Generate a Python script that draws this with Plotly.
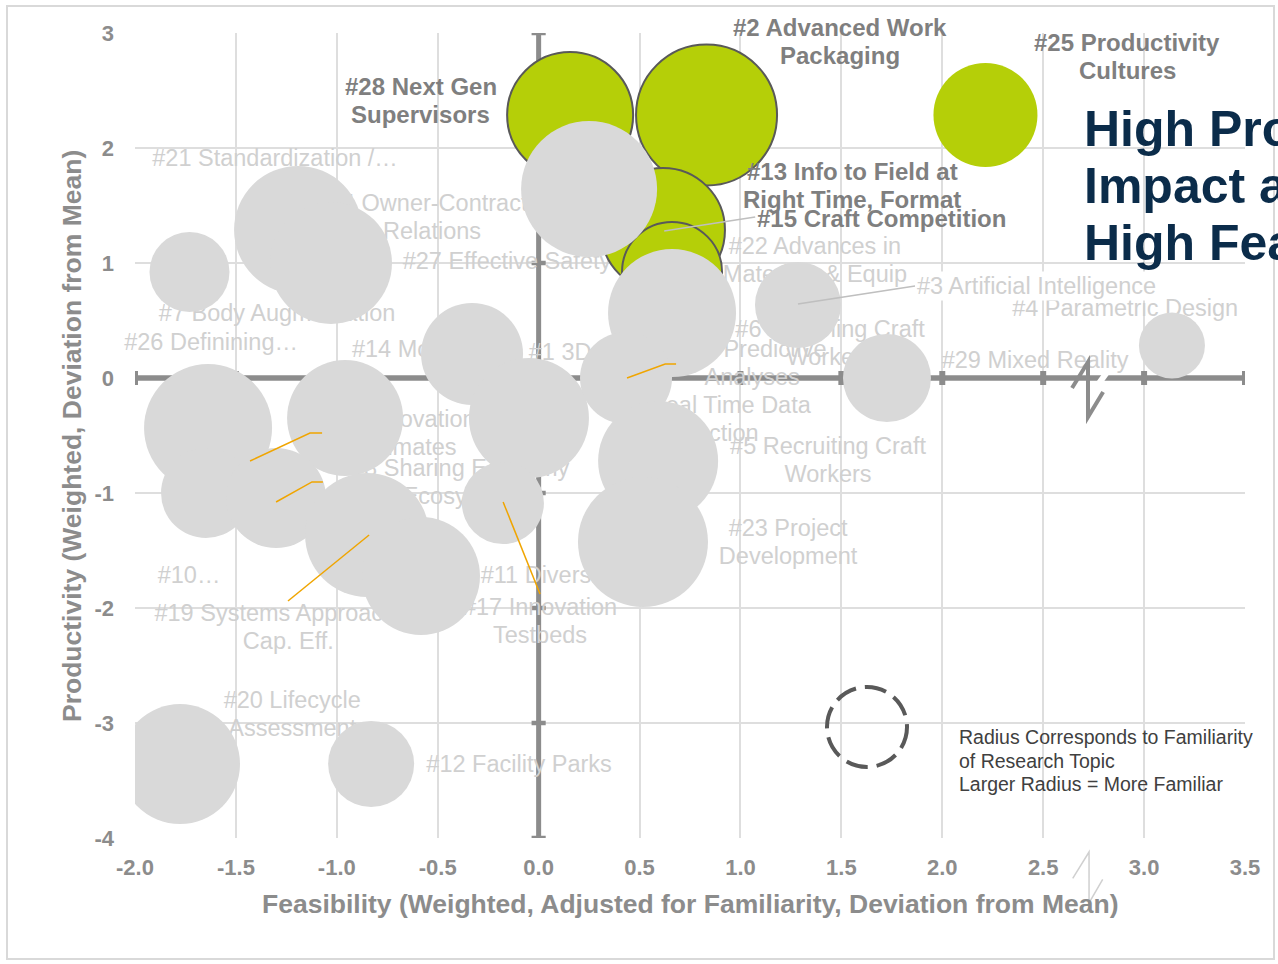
import plotly.graph_objects as go

# ---------------- data ----------------
x_tick_values = [-2.0, -1.5, -1.0, -0.5, 0.0, 0.5, 1.0, 1.5, 2.0, 2.5, 3.0, 3.5]
x_tick_labels = ["-2.0", "-1.5", "-1.0", "-0.5", "0.0", "0.5", "1.0", "1.5", "2.0", "2.5", "3.0", "3.5"]
y_tick_values = [-4, -3, -2, -1, 0, 1, 2, 3]
y_tick_labels = ["-4", "-3", "-2", "-1", "0", "1", "2", "3"]
Y_MIN, Y_MAX = -4, 3

# highlighted topics (high productivity & high feasibility)
top_topics = ["#28 Next Gen Supervisors", "#2 Advanced Work Packaging",
              "#13 Info to Field at Right Time, Format", "#15 Craft Competition",
              "#25 Productivity Cultures"]
top_feasibility = [0.156, 0.832, 0.616, 0.661, 2.214]
top_productivity = [2.287, 2.287, 1.287, 0.922, 2.287]
top_familiarity = [12.6, 14.1, 12.4, 10.0, 10.4]

# remaining topics
other_feasibility = [-1.730, -1.192, -1.029, 0.250, 0.661, 1.285, 1.726, 3.138,
                     -0.330, -0.048, -0.177, 0.433, 0.592, 0.517,
                     -1.638, -0.959, -1.648, -1.301, -0.850, -0.583, -1.777, -0.830]
other_productivity = [0.922, 1.287, 1.000, 1.643, 0.565, 0.635, 0.000, 0.283,
                      0.209, -0.348, -1.087, 0.000, -0.722, -1.426,
                      -0.435, -0.348, -1.000, -1.043, -1.365, -1.722, -3.357, -3.357]
other_familiarity = [8.0, 12.8, 12.2, 13.6, 12.8, 8.6, 8.8, 6.6,
                     10.2, 12.0, 8.2, 9.2, 12.0, 13.0,
                     12.8, 11.6, 9.0, 10.0, 12.4, 11.8, 12.0, 8.6]

other_labels = ["#21 Standardization /…", "#24 Owner-Contractor<br>Relations",
                "#27 Effective Safety", "#7 Body Augmentation", "#26 Definining…",
                "#14 Modularity", "#1 3D Printing", "#22 Advances in<br>Materials & Equip",
                "#4 Parametric Design", "#6 Retaining Craft<br>Workers",
                "#29 Mixed Reality", "#18 Predictive<br>Analyses",
                "#16 Real Time Data<br>Collection", "#5 Recruiting Craft<br>Workers",
                "#23 Project<br>Development", "#9 Innovation<br>Estimates",
                "#8 Sharing Economy<br>Ecosystem", "#10…",
                "#19 Systems Approach to<br>Cap. Eff.", "#11 Diversity",
                "#17 Innovation<br>Testbeds", "#20 Lifecycle<br>Assessment",
                "#12 Facility Parks"]
other_label_x = [-1.306, -0.528, -0.157, -1.296, -1.623, -0.543, 0.320, 1.369,
                 2.906, 1.444, 2.460, 1.058, 0.834, 1.434, 1.236, -0.662,
                 -0.389, -1.732, -1.240, 0.045, 0.007, -1.221, -0.097]
other_label_y = [1.896, 1.383, 1.000, 0.548, 0.296, 0.235, 0.209, 1.009,
                 0.591, 0.287, 0.139, 0.113, -0.374, -0.730, -1.443, -0.496,
                 -0.922, -1.730, -2.183, -1.730, -2.130, -2.939, -3.374]

top_labels = ["#2 Advanced Work<br>Packaging", "#25 Productivity<br>Cultures",
              "#28 Next Gen<br>Supervisors", "#13 Info to Field at<br>Right Time, Format",
              "#15 Craft Competition"]
top_label_x = [1.494, 2.916, -0.583, 1.553, 1.697]
top_label_y = [2.922, 2.800, 2.409, 1.678, 1.391]

quadrant_title = ["High Productivity", "Impact and", "High Feasibility"]
legend_note = ["Radius Corresponds to Familiarity", "of Research Topic",
               "Larger Radius = More Familiar"]

# ---------------- styles ----------------
FONT = "Arial, Liberation Sans, sans-serif"
GREEN = "#b5cf08"
BUBBLE_GRAY = "#d9d9d9"
LABEL_GRAY = "#d0d0d0"
AXIS_GRAY = "#8c8c8c"
GRID = "#dedede"
ORANGE = "#f0a500"

PX_PER_Y = 115.0   # pixels per y data unit
LINE_PX = 28.0     # line spacing of multi-line labels


def split_lines(labels, xs, ys):
    tt, xx, yy = [], [], []
    for t, x, y in zip(labels, xs, ys):
        parts = t.split("<br>")
        n = len(parts)
        for i, p in enumerate(parts):
            tt.append(p)
            xx.append(x)
            yy.append(y + ((n - 1) / 2 - i) * LINE_PX / PX_PER_Y)
    return tt, xx, yy


fig = go.Figure()

# faint labels (behind bubbles)
gt, gx, gy = split_lines(other_labels, other_label_x, other_label_y)
fig.add_trace(go.Scatter(
    x=gx, y=gy, text=gt, mode="text",
    textposition="middle center", cliponaxis=False, hoverinfo="skip",
    textfont=dict(family=FONT, size=23.5, color=LABEL_GRAY)))

# highlighted bubbles
fig.add_trace(go.Scatter(
    x=top_feasibility, y=top_productivity, mode="markers", hoverinfo="skip",
    text=top_topics,
    marker=dict(size=top_familiarity, sizemode="diameter", sizeref=0.1,
                color=GREEN, opacity=1,
                line=dict(color="#595959", width=[2, 2, 2, 2, 0]))))

# other bubbles
fig.add_trace(go.Scatter(
    x=other_feasibility, y=other_productivity, mode="markers", hoverinfo="skip",
    marker=dict(size=other_familiarity, sizemode="diameter", sizeref=0.1,
                color=BUBBLE_GRAY, opacity=1, line=dict(width=0))))

# leader lines
leaders_orange = [
    ([-1.430, -1.133, -1.073], [-0.722, -0.478, -0.478]),
    ([-1.301, -1.123, -1.069], [-1.078, -0.904, -0.904]),
    ([-1.242, -0.840], [-1.939, -1.365]),
    ([-0.176, 0.007], [-1.078, -1.878]),
    ([0.438, 0.627, 0.681], [0.000, 0.122, 0.122]),
]
for lx, ly in leaders_orange:
    fig.add_trace(go.Scatter(x=lx, y=ly, mode="lines", hoverinfo="skip",
                             line=dict(color=ORANGE, width=1.5)))
leaders_gray = [
    ([0.622, 1.073], [1.278, 1.400]),
    ([1.285, 1.865], [0.643, 0.800]),
]
for lx, ly in leaders_gray:
    fig.add_trace(go.Scatter(x=lx, y=ly, mode="lines", hoverinfo="skip",
                             line=dict(color="#bfbfbf", width=1.5)))

# ---------------- layout ----------------
L, R, T, B = 135, 1245, 33, 838
PW, PH = R - L, B - T


def px(xp):
    return (xp - L) / PW


def py(yp):
    return (B - yp) / PH


shapes = []
# outer border
shapes.append(dict(type="rect", xref="paper", yref="paper",
                   x0=px(7), x1=px(1274), y0=py(959), y1=py(6),
                   line=dict(color="#d9d9d9", width=2), layer="below"))
# white legend box
shapes.append(dict(type="rect", xref="paper", yref="paper",
                   x0=px(954), x1=px(1252), y0=py(799), y1=py(720),
                   fillcolor="white", line=dict(width=0), layer="between"))
# axes through zero
shapes.append(dict(type="line", xref="x", yref="y", x0=-2.0, x1=3.5, y0=0, y1=0,
                   line=dict(color=AXIS_GRAY, width=5.5), layer="between"))
shapes.append(dict(type="line", xref="x", yref="y", x0=0, x1=0, y0=-4, y1=3,
                   line=dict(color=AXIS_GRAY, width=5), layer="between"))
for v in x_tick_values:
    shapes.append(dict(type="line", xref="x", yref="y", x0=v, x1=v, y0=-0.061, y1=0.061,
                       line=dict(color=AXIS_GRAY, width=6), layer="between"))
for v in y_tick_values:
    shapes.append(dict(type="line", xref="x", yref="y", x0=-0.035, x1=0.035, y0=v, y1=v,
                       line=dict(color=AXIS_GRAY, width=4.5), layer="between"))
# axis break on the zero line
shapes.append(dict(type="line", xref="x", yref="y", x0=2.767, y0=-0.070, x1=2.831, y1=0.087,
                   line=dict(color="white", width=6), layer="between"))
shapes.append(dict(type="path", xref="x", yref="y",
                   path="M 2.643,-0.087 L 2.722,0.139 L 2.722,-0.339 L 2.797,-0.122",
                   line=dict(color=AXIS_GRAY, width=4), layer="above"))
# axis break under the x axis labels
shapes.append(dict(type="path", xref="paper", yref="paper",
                   path="M %.4f,%.4f L %.4f,%.4f L %.4f,%.4f L %.4f,%.4f" % (
                       px(1072.7), py(878.3), px(1089), py(852), px(1089), py(903),
                       px(1102.7), py(879.3)),
                   line=dict(color="#d0d0d0", width=1.5), layer="above"))
# dashed legend circle
cx, cy, rr = 867, 727, 40
shapes.append(dict(type="circle", xref="paper", yref="paper",
                   x0=px(cx - rr), x1=px(cx + rr), y0=py(cy + rr), y1=py(cy - rr),
                   line=dict(color="#595959", width=4, dash="22px,9px"), layer="above"))

annotations = [
    dict(xref="paper", yref="paper", x=px(690), y=py(904), xanchor="center", yanchor="middle",
         text="<b>Feasibility (Weighted, Adjusted for Familiarity, Deviation from Mean)</b>",
         showarrow=False, font=dict(family=FONT, size=26.5, color=AXIS_GRAY)),
    dict(xref="paper", yref="paper", x=px(72), y=py(436), xanchor="center", yanchor="middle",
         text="<b>Productivity (Weighted, Deviation from Mean)</b>", textangle=-90,
         showarrow=False, font=dict(family=FONT, size=26.5, color=AXIS_GRAY)),
    dict(xref="x", yref="y", x=1.865, y=0.800, xanchor="left", yanchor="middle",
         text="#3 Artificial Intelligence", showarrow=False, bgcolor="white", borderpad=1,
         font=dict(family=FONT, size=23.5, color=LABEL_GRAY)),
]
# bold labels of the highlighted topics (y given in paper units so lines above the
# top of the axis range stay visible)
bt, bx, by = split_lines(top_labels, top_label_x, top_label_y)
for t, x, y in zip(bt, bx, by):
    annotations.append(dict(xref="x", yref="paper", x=x, y=(y - Y_MIN) / (Y_MAX - Y_MIN),
                            xanchor="center", yanchor="middle",
                            text="<b>" + t + "</b>", showarrow=False,
                            font=dict(family=FONT, size=24, color="#7f7f7f")))
for i, line in enumerate(quadrant_title):
    annotations.append(dict(xref="paper", yref="paper", x=px(1082), y=py(128.5 + 57.5 * i),
                            xanchor="left", yanchor="middle", text="<b>" + line + "</b>",
                            showarrow=False, font=dict(family=FONT, size=50, color="#0b2c4a")))
for i, line in enumerate(legend_note):
    annotations.append(dict(xref="paper", yref="paper", x=px(957), y=py(737 + 23.5 * i),
                            xanchor="left", yanchor="middle", text=line,
                            showarrow=False, font=dict(family=FONT, size=19.5, color="#404040")))

fig.update_layout(
    width=1278, height=964, autosize=False,
    margin=dict(l=L, r=1278 - R, t=T, b=964 - B, pad=0),
    paper_bgcolor="white", plot_bgcolor="white",
    showlegend=False,
    shapes=shapes, annotations=annotations,
    xaxis=dict(range=[-2.0, 3.5], tickvals=x_tick_values, ticktext=x_tick_labels,
               showgrid=True, gridcolor=GRID, gridwidth=2, zeroline=False, showline=False,
               ticks="", ticklabelstandoff=14,
               tickfont=dict(family=FONT, size=22, color=AXIS_GRAY, weight="bold")),
    yaxis=dict(range=[Y_MIN, Y_MAX], tickvals=y_tick_values, ticktext=y_tick_labels,
               showgrid=True, gridcolor=GRID, gridwidth=2, zeroline=False, showline=False,
               ticks="", ticklabelstandoff=20,
               tickfont=dict(family=FONT, size=22, color=AXIS_GRAY, weight="bold")),
)

fig.write_html("out.html", config={"displayModeBar": False},
               post_script="document.body.style.margin='0';document.body.style.overflow='hidden';")
